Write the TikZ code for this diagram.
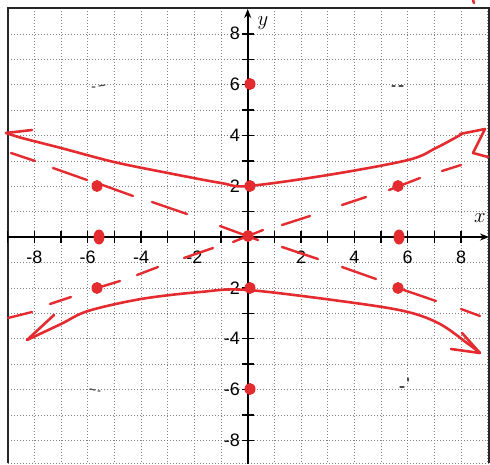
\documentclass[tikz,border=0pt]{standalone}
\usepackage{fontspec}
\setmainfont{Liberation Sans}
\usetikzlibrary{arrows.meta,shapes.geometric}
\definecolor{pen}{RGB}{228,44,48}
\tikzset{
  gridline/.style={black!50, line width=0.5pt, dash pattern=on 1.2pt off 1.8pt},
  framebox/.style={black!85, line width=1.2pt},
  axisline/.style={black, line width=1.8pt},
  tickmark/.style={black, line width=1.4pt},
  penline/.style={pen, line width=2.6pt, line cap=round, line join=round},
  pendash/.style={pen, line width=2.4pt, line cap=round},
  pendot/.style={ellipse, fill=pen, inner sep=0pt, minimum width=11pt, minimum height=12pt},
  pencil/.style={black!70, line width=1.2pt, line cap=round},
  numlabel/.style={font=\fontsize{18}{18}\selectfont, inner sep=0pt},
  axislabel/.style={font=\fontsize{20}{20}\selectfont, inner sep=0pt}
}
\begin{document}
\begin{tikzpicture}[x=1pt,y=-1pt]
\useasboundingbox (0,0) rectangle (490,464);
% grid
\foreach \i in {-8,...,9}
  \draw[gridline] ({247.7+26.67*\i},8) -- ({247.7+26.67*\i},463);
\foreach \j in {-8,...,8}
  \draw[gridline] (8,{237-25.4*\j}) -- (489,{237-25.4*\j});
% frame
\draw[framebox] (8,463) -- (8,8) -- (489,8) -- (489,463);
\draw[gridline] (8,463) -- (489,463);
% axes
\coordinate (xs) at (8,237);
\coordinate (xe) at (489,237);
\coordinate (ys) at (247.7,464);
\coordinate (ye) at (247.7,9);
\draw[axisline,-{Stealth[length=9pt,width=7pt]}] (xs) -- (xe);
\draw[axisline,-{Stealth[length=9pt,width=7pt]}] (ys) -- (ye);
\foreach \i in {-9,...,8}
  \draw[tickmark] ({247.7+26.67*\i},231) -- ({247.7+26.67*\i},243);
\foreach \j in {-8,...,8}
  \draw[tickmark] (241.7,{237-25.4*\j}) -- (253.7,{237-25.4*\j});
% tick labels
\foreach \i/\t in {-8/-8,-6/-6,-4/-4,-2/-2,2/2,4/4,6/6,8/8}
  \node[numlabel] (xl\i) at ({247.7+26.67*\i},257) {\t};
\foreach \j/\t in {8/8,6/6,4/4,2/2,-2/-2,-4/-4,-6/-6,-8/-8}
  \node[numlabel, anchor=east] (yl\j) at (240,{237-25.4*\j}) {\t};
\node[axislabel] (ylab) at (263,23) {$y$};
\node[axislabel] (xlab) at (480,218) {$x$};
% pencil marks
\draw[pencil] (92,87) -- (95,87) (99,86) -- (105,85);
\draw[pencil] (392,86) -- (395,86) (399,86) -- (403,86);
\draw[pencil] (90,389) -- (95,390) (98,391) -- (100,391);
\draw[pencil] (400,387) -- (404,387) (408,378) -- (408,381);
% asymptote dashes (negative slope)
\draw[pendash] (11,153) -- (35,161);
\draw[pendash] (53,168) -- (87,180);
\draw[pendash] (97,183) -- (133,196);
\draw[pendash] (152,202) -- (187,214);
\draw[pendash] (220,226) -- (258,240);
\draw[pendash] (282,247) -- (318,259);
\draw[pendash] (342,267) -- (376,279);
\draw[pendash] (398,288) -- (436,301);
\draw[pendash] (461,309) -- (480,316);
% asymptote dashes (positive slope)
\draw[pendash] (8,318) -- (32,312);
\draw[pendash] (50,304) -- (71,297);
\draw[pendash] (97,288) -- (120,281);
\draw[pendash] (137,275) -- (158,267);
\draw[pendash] (184,258) -- (213,248);
\draw[pendash] (233,242) -- (263,230);
\draw[pendash] (282,225) -- (310,216);
\draw[pendash] (342,205) -- (366,197);
\draw[pendash] (389,190) -- (420,178);
\draw[pendash] (442,171) -- (461,165);
% upper branch
\draw[penline] plot[smooth, tension=0.55] coordinates {(6,133) (22,138) (61,148) (114,162) (168,173) (221,183) (248,186) (328,175) (408,160) (436,148) (462,134)};
\draw[penline] (6,133) -- (32,130);
\draw[penline] (460,134) -- (485,129) -- (473,153) -- (488,157);
% lower branch
\draw[penline] plot[smooth, tension=0.55] coordinates {(27,340) (61,324) (88,311) (141,299) (200,292) (248,290) (355,303) (408,312) (440,324) (467,343) (480,353)};
\draw[penline] (27,340) -- (54,315);
\draw[penline] (480,353) -- (462,333);
\draw[penline] (480,353) -- (451,349);
% top right stroke
\draw[penline] (473,0) -- (474,3);
% points
\node[pendot] (f1) at (250,84) {};
\node[pendot] (v1) at (250,186) {};
\node[pendot] (o) at (248,236) {};
\node[pendot] (v2) at (250,288) {};
\node[pendot] (f2) at (250,389) {};
\node[pendot] (a1) at (97,186) {};
\node[pendot] (a2) at (398,186) {};
\node[pendot, minimum height=15pt] (b1) at (99,237) {};
\node[pendot, minimum height=15pt] (b2) at (399,237) {};
\node[pendot] (a3) at (97,288) {};
\node[pendot] (a4) at (398,288) {};
\end{tikzpicture}
\end{document}
